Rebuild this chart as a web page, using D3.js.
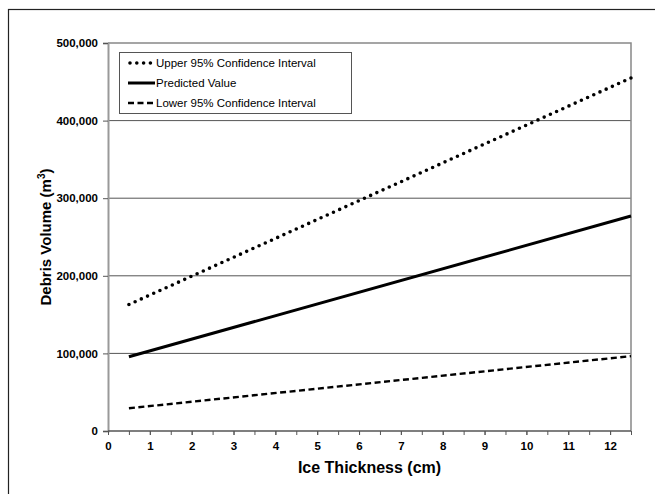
<!DOCTYPE html>
<html>
<head>
<meta charset="utf-8">
<title>Debris Volume vs Ice Thickness</title>
<script src="https://d3js.org/d3.v7.min.js"></script>
<style>
  body { margin: 0; background: #fff; }
  svg text { font-family: Arial, "Liberation Sans", sans-serif; }
  .tick text { font-size: 11.5px; font-weight: bold; fill: #000; }
</style>
</head>
<body>
<script>
// data
var thickness = [0.5, 12.5];
var upperCI   = [163000, 455000];
var predicted = [95700, 277000];
var lowerCI   = [29300, 96500];

var xTicks = [0, 1, 2, 3, 4, 5, 6, 7, 8, 9, 10, 11, 12];
var xMinor = d3.range(0, 12.51, 0.5);
var yTicks = [0, 100000, 200000, 300000, 400000, 500000];

var series = [
  { name: "Upper 95% Confidence Interval", values: upperCI,   width: 3.6, dash: "0 6.8", cap: "round" },
  { name: "Predicted Value",               values: predicted, width: 3,   dash: null,    cap: "butt" },
  { name: "Lower 95% Confidence Interval", values: lowerCI,   width: 2.4, dash: "6 3.5", cap: "butt" }
];

var W = 655, H = 494;
var margin = { top: 43, right: 24, bottom: 63, left: 108 };
var width = W - margin.left - margin.right,
    height = H - margin.top - margin.bottom;

var svg = d3.select("body").append("svg")
  .attr("width", W).attr("height", H);

// outer frame
svg.append("rect")
  .attr("x", 8.5).attr("y", 9.5)
  .attr("width", 700).attr("height", 600)
  .attr("fill", "none").attr("stroke", "#222").attr("stroke-width", 1.2);

var g = svg.append("g")
  .attr("transform", "translate(" + margin.left + "," + margin.top + ")");

var x = d3.scaleLinear().domain([0, 12.5]).range([0, width]);
var y = d3.scaleLinear().domain([0, 500000]).range([height, 0]);

// gridlines
g.selectAll("line.grid")
  .data(yTicks.slice(1, -1))
  .enter().append("line")
  .attr("class", "grid")
  .attr("x1", 0).attr("x2", width)
  .attr("y1", function(d) { return y(d); })
  .attr("y2", function(d) { return y(d); })
  .attr("stroke", "#555").attr("stroke-width", 1);

// plot frame top / right
g.append("path")
  .attr("d", "M0," + y(500000) + "H" + width + "V" + height)
  .attr("fill", "none").attr("stroke", "#888").attr("stroke-width", 1.5);

// y axis
var yAxis = g.append("g")
  .call(d3.axisLeft(y).tickValues(yTicks).tickSize(5).tickPadding(5)
    .tickFormat(d3.format(",")));
yAxis.select(".domain").attr("stroke", "#999").attr("stroke-width", 2);
yAxis.selectAll(".tick line").attr("stroke", "#555");

// x axis, minor ticks at every half cm
var xAxisMinor = g.append("g")
  .attr("transform", "translate(0," + height + ")")
  .call(d3.axisBottom(x).tickValues(xMinor).tickSize(4).tickFormat(""));
xAxisMinor.select(".domain").remove();
xAxisMinor.selectAll(".tick line").attr("stroke", "#555");

var xAxis = g.append("g")
  .attr("transform", "translate(0," + height + ")")
  .call(d3.axisBottom(x).tickValues(xTicks).tickSize(4).tickPadding(7)
    .tickFormat(d3.format("d")));
xAxis.select(".domain").attr("stroke", "#555").attr("stroke-width", 1.5)
  .attr("d", "M0,0H" + width);
xAxis.selectAll(".tick line").attr("stroke", "#555");

// lines
var line = d3.line()
  .x(function(d) { return x(d[0]); })
  .y(function(d) { return y(d[1]); });

series.forEach(function(s) {
  g.append("path")
    .datum(d3.zip(thickness, s.values))
    .attr("d", line)
    .attr("fill", "none")
    .attr("stroke", "#000")
    .attr("stroke-width", s.width)
    .attr("stroke-linecap", s.cap)
    .attr("stroke-dasharray", s.dash);
});

// axis titles
svg.append("text")
  .attr("x", margin.left + width / 2).attr("y", 473)
  .attr("text-anchor", "middle")
  .style("font-size", "16px").style("font-weight", "bold")
  .text("Ice Thickness (cm)");

var yt = svg.append("text")
  .attr("transform", "translate(51," + (margin.top + height / 2) + ") rotate(-90)")
  .attr("text-anchor", "middle")
  .style("font-size", "15px").style("font-weight", "bold");
yt.append("tspan").text("Debris Volume (m");
yt.append("tspan").attr("dy", -6).style("font-size", "10px").text("3");
yt.append("tspan").attr("dy", 6).text(")");

// legend
var leg = svg.append("g").attr("transform", "translate(119,52)");
leg.append("rect")
  .attr("x", 0.5).attr("y", 0.5).attr("width", 232).attr("height", 61)
  .attr("fill", "#fff").attr("stroke", "#555").attr("stroke-width", 1);

series.forEach(function(s, i) {
  var ly = 11 + i * 20;
  leg.append("line")
    .attr("x1", s.cap === "round" ? 11 : 9).attr("x2", 36)
    .attr("y1", ly).attr("y2", ly)
    .attr("stroke", "#000")
    .attr("stroke-width", s.width)
    .attr("stroke-linecap", s.cap)
    .attr("stroke-dasharray", s.dash);
  leg.append("text")
    .attr("x", 37).attr("y", ly).attr("dy", "0.35em")
    .style("font-size", "11.5px")
    .text(s.name);
});
</script>
</body>
</html>
